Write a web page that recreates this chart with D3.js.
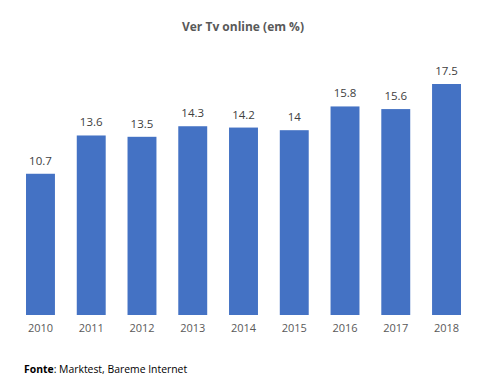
<!DOCTYPE html>
<html><head><meta charset="utf-8">
<script src="https://cdn.jsdelivr.net/npm/d3@7"></script>
<style>body{margin:0;background:#fff}</style>
</head><body>
<svg id="c" width="479" height="387"></svg>
<script>
const years = ["2010","2011","2012","2013","2014","2015","2016","2017","2018"];
const values = [10.7,13.6,13.5,14.3,14.2,14,15.8,15.6,17.5];
const labels = ["10.7","13.6","13.5","14.3","14.2","14","15.8","15.6","17.5"];

const svg = d3.select("#c");
const font = "'Open Sans', 'Liberation Sans', sans-serif";
const x = d3.scaleBand().domain(years).range([15.1, 471.9]).paddingInner(0.43).paddingOuter(0.215);
const y = d3.scaleLinear().domain([0,20]).range([315, 51]);

svg.append("text").attr("x",243).attr("y",31).attr("text-anchor","middle")
  .attr("font-family",font).attr("font-weight","bold").attr("font-size",12).attr("fill","#595959")
  .text("Ver Tv online (em %)");

svg.selectAll("rect.bar").data(years).enter().append("rect")
  .attr("x",d=>x(d)).attr("width",x.bandwidth())
  .attr("y",(d,i)=>y(values[i])).attr("height",(d,i)=>y(0)-y(values[i]))
  .attr("fill","#4472C4");

svg.selectAll("text.val").data(years).enter().append("text")
  .attr("x",d=>x(d)+x.bandwidth()/2).attr("y",(d,i)=>y(values[i])-9)
  .attr("text-anchor","middle").attr("font-family",font).attr("font-size",11.5).attr("fill","#404040")
  .text((d,i)=>labels[i]);

const ax = svg.append("g").attr("transform","translate(0,315)").call(d3.axisBottom(x).tickSize(0).tickPadding(9));
ax.select(".domain").remove();
ax.selectAll("text").attr("font-family",font).attr("font-size",11).attr("fill","#595959");

const f = svg.append("text").attr("x",24).attr("y",373).attr("font-family",font).attr("font-size",10.4).attr("fill","#000");
f.append("tspan").attr("font-weight","bold").text("Fonte");
f.append("tspan").text(": Marktest, Bareme Internet");
</script>
</body></html>
